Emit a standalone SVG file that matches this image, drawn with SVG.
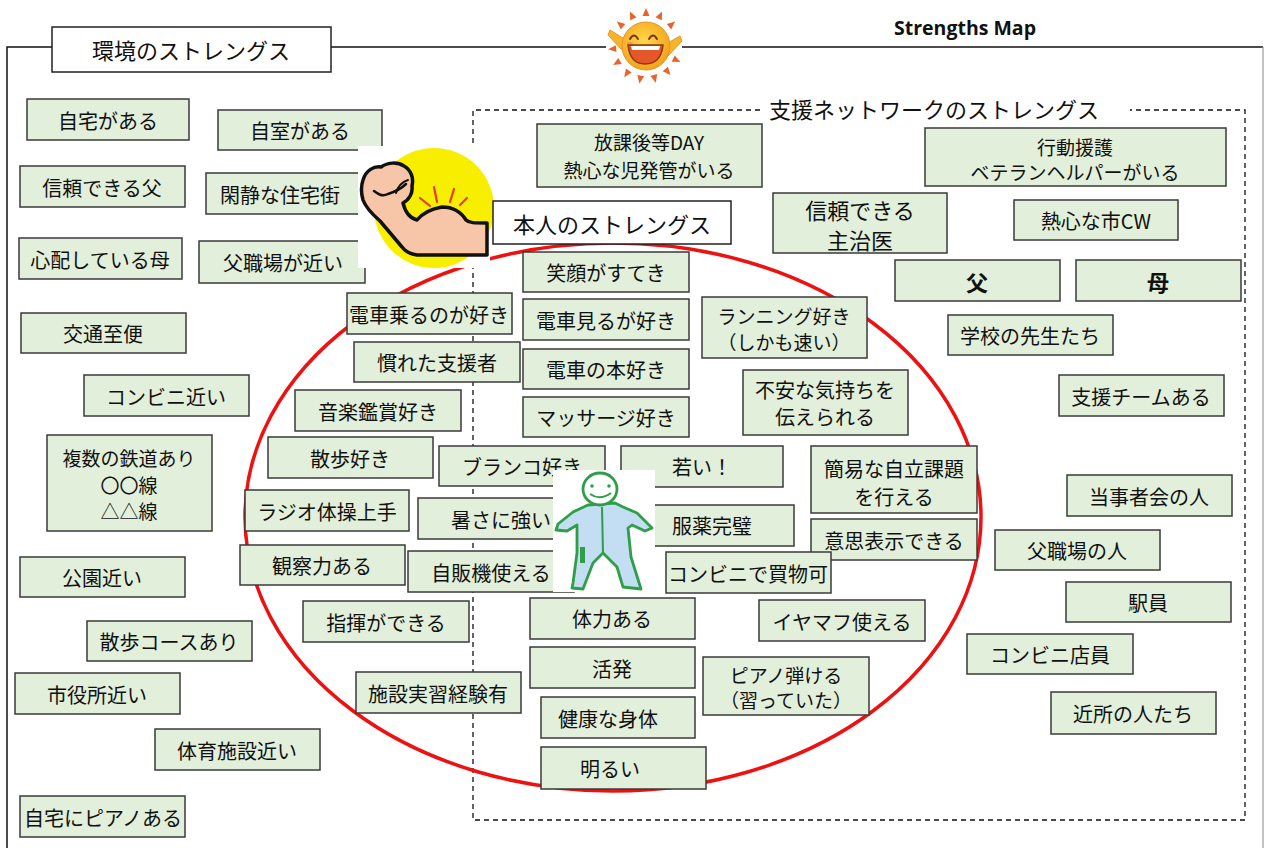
<svg xmlns="http://www.w3.org/2000/svg" width="1266" height="848" viewBox="0 0 1266 848">
  <style>
    .b { fill: #E2EFDA; stroke: #3A3A3A; stroke-width: 1.5; }
    .w { fill: #FFFFFF; stroke: #222222; stroke-width: 1.5; }
    .t { font-family: "Noto Sans CJK JP", "Noto Sans", sans-serif; font-size: 20px; fill: #111111; text-anchor: middle; dominant-baseline: central; }
    .m { font-size: 19px; }
    .h { font-size: 22px; }
    .bold { font-weight: bold; }
  </style>
  <defs>
    <radialGradient id="sunBody" cx="0.45" cy="0.4" r="0.6">
      <stop offset="0" stop-color="#FFD84A"/>
      <stop offset="1" stop-color="#F4A21E"/>
    </radialGradient>
    <polygon id="ray" points="-3.5,-30 3.5,-30 0,-38" fill="#E8642A"/>
  </defs>

  <rect width="1266" height="848" fill="#FFFFFF"/>

  <!-- outer frame -->
  <g id="frame" fill="none">
    <polyline points="7,848 7,47 52,47" stroke="#111" stroke-width="1.5"/>
    <line x1="331" y1="47" x2="606" y2="47" stroke="#111" stroke-width="1.5"/>
    <line x1="682" y1="47" x2="1263" y2="47" stroke="#111" stroke-width="1.5"/>
    <line x1="1263" y1="47" x2="1263" y2="848" stroke="#999" stroke-width="1.2"/>
  </g>

  <!-- support-network dashed area -->
  <g id="network-frame" fill="none" stroke="#111" stroke-width="1.3" stroke-dasharray="5,4">
    <polyline points="760,110 473,110 473,820 1245,820 1245,110 1130,110"/>
  </g>

  <!-- red ellipse around the person -->
  <ellipse id="self-ring" cx="613" cy="517" rx="368" ry="274" fill="none" stroke="#EE1111" stroke-width="3.5"/>

  <text class="t bold" x="965" y="27" style="font-family:'Open Sans','Liberation Sans',sans-serif;font-size:19.5px">Strengths Map</text>

  <!-- section titles -->
  <g id="title-env">
    <rect class="w" x="52" y="27" width="279" height="45"/>
    <text class="t h" x="191" y="49">環境のストレングス</text>
  </g>
  <g id="title-net">
    <text class="t h" x="934" y="108">支援ネットワークのストレングス</text>
  </g>

  <!-- environment strengths -->
  <g id="env-home"><rect class="b" x="27" y="99" width="162" height="41"/><text class="t" x="108" y="120">自宅がある</text></g>
  <g id="env-room"><rect class="b" x="218" y="110" width="164" height="40"/><text class="t" x="300" y="130">自室がある</text></g>
  <g id="env-father"><rect class="b" x="20" y="166" width="165" height="41"/><text class="t" x="102" y="187">信頼できる父</text></g>
  <g id="env-quiet"><rect class="b" x="206" y="173" width="165" height="41"/><text class="t" x="280" y="194">閑静な住宅街</text></g>
  <g id="env-mother"><rect class="b" x="19" y="238" width="163" height="41"/><text class="t" x="100" y="259">心配している母</text></g>
  <g id="env-fatherwork"><rect class="b" x="199" y="241" width="166" height="42"/><text class="t" x="283" y="262">父職場が近い</text></g>
  <g id="env-transit"><rect class="b" x="21" y="313" width="165" height="40"/><text class="t" x="103" y="333">交通至便</text></g>
  <g id="env-store"><rect class="b" x="84" y="375" width="165" height="41"/><text class="t" x="166" y="396">コンビニ近い</text></g>
  <g id="env-rail"><rect class="b" x="47" y="435" width="165" height="96"/>
    <text class="t m" x="129" y="457">複数の鉄道あり</text>
    <text class="t m" x="129" y="484">〇〇線</text>
    <text class="t m" x="129" y="510">△△線</text>
  </g>
  <g id="env-park"><rect class="b" x="20" y="557" width="165" height="40"/><text class="t" x="102" y="577">公園近い</text></g>
  <g id="env-walk"><rect class="b" x="87" y="621" width="165" height="40"/><text class="t" x="169" y="641">散歩コースあり</text></g>
  <g id="env-office"><rect class="b" x="15" y="673" width="165" height="41"/><text class="t" x="97" y="694">市役所近い</text></g>
  <g id="env-gym"><rect class="b" x="155" y="729" width="165" height="41"/><text class="t" x="237" y="750">体育施設近い</text></g>
  <g id="env-piano"><rect class="b" x="20" y="796" width="165" height="41"/><text class="t" x="103" y="817">自宅にピアノある</text></g>

  <!-- flexed arm emblem -->
  <g id="arm-emblem">
    <rect x="358" y="146" width="132" height="122" fill="#FFFFFF"/>
    <circle cx="434" cy="208" r="60" fill="#F7EE00"/>
    <path d="M363,180 C366,170 374,166 381,167 C388,162 398,162 404,166 C411,170 414,178 412,186 C413,193 409,200 403,203 C405,211 409,218 417,220 C422,214 430,209 442,207 C453,207 461,212 466,220 C469,223 474,223 487,223 L487,255 L417,255 C410,254 405,251 402,247 L380,221 C372,214 366,208 363,200 C361,193 361,186 363,180 Z" fill="#F7C6A8" stroke="#111" stroke-width="3.5" stroke-linejoin="round"/>
    <path d="M374,191 C378,194 382,197 388,194 C394,192 400,190 406,184" fill="none" stroke="#111" stroke-width="2.5" stroke-linecap="round"/>
    <path d="M396,193 C398,186 402,182 408,180" fill="none" stroke="#111" stroke-width="2" stroke-linecap="round"/>
    <g stroke="#E83A1E" stroke-width="2.2" stroke-linecap="round">
      <line x1="420" y1="198" x2="430" y2="206"/>
      <line x1="434" y1="187" x2="437" y2="202"/>
      <line x1="454" y1="189" x2="450" y2="202"/>
      <line x1="467" y1="198" x2="460" y2="205"/>
    </g>
  </g>

  <!-- personal strengths -->
  <g id="self-title">
    <rect class="w" x="493" y="201" width="238" height="43"/>
    <text class="t h" x="612" y="223">本人のストレングス</text>
  </g>
  <g id="self-smile"><rect class="b" x="523" y="252" width="166" height="40"/><text class="t" x="606" y="272">笑顔がすてき</text></g>
  <g id="self-trainride"><rect class="b" x="347" y="293" width="165" height="41"/><text class="t" x="429" y="314">電車乗るのが好き</text></g>
  <g id="self-trainwatch"><rect class="b" x="523" y="299" width="166" height="41"/><text class="t" x="606" y="320">電車見るが好き</text></g>
  <g id="self-running"><rect class="b" x="702" y="297" width="165" height="61"/>
    <text class="t m" x="784" y="315">ランニング好き</text>
    <text class="t m" x="784" y="341">（しかも速い）</text>
  </g>
  <g id="self-supporter"><rect class="b" x="354" y="342" width="166" height="40"/><text class="t" x="437" y="362">慣れた支援者</text></g>
  <g id="self-trainbook"><rect class="b" x="523" y="349" width="166" height="40"/><text class="t" x="606" y="369">電車の本好き</text></g>
  <g id="self-anxiety"><rect class="b" x="743" y="370" width="165" height="65"/>
    <text class="t" x="825" y="389">不安な気持ちを</text>
    <text class="t" x="825" y="416">伝えられる</text>
  </g>
  <g id="self-music"><rect class="b" x="295" y="390" width="166" height="41"/><text class="t" x="378" y="411">音楽鑑賞好き</text></g>
  <g id="self-massage"><rect class="b" x="523" y="397" width="166" height="40"/><text class="t" x="606" y="417">マッサージ好き</text></g>
  <g id="self-stroll"><rect class="b" x="268" y="437" width="165" height="41"/><text class="t" x="350" y="458">散歩好き</text></g>
  <g id="self-swing"><rect class="b" x="439" y="446" width="166" height="40"/><text class="t" x="522" y="466">ブランコ好き</text></g>
  <g id="self-young"><rect class="b" x="621" y="446" width="162" height="41"/><text class="t" x="702" y="466">若い！</text></g>
  <g id="self-tasks"><rect class="b" x="811" y="446" width="166" height="67"/>
    <text class="t" x="894" y="468">簡易な自立課題</text>
    <text class="t" x="894" y="496">を行える</text>
  </g>
  <g id="self-radio"><rect class="b" x="245" y="490" width="164" height="41"/><text class="t" x="327" y="511">ラジオ体操上手</text></g>
  <g id="self-heat"><rect class="b" x="418" y="498" width="166" height="41"/><text class="t" x="501" y="519">暑さに強い</text></g>
  <g id="self-medicine"><rect class="b" x="630" y="505" width="164" height="41"/><text class="t" x="712" y="525">服薬完璧</text></g>
  <g id="self-express"><rect class="b" x="811" y="519" width="166" height="41"/><text class="t" x="894" y="540">意思表示できる</text></g>
  <g id="self-observe"><rect class="b" x="240" y="545" width="165" height="40"/><text class="t" x="322" y="565">観察力ある</text></g>
  <g id="self-vending"><rect class="b" x="408" y="551" width="166" height="41"/><text class="t" x="491" y="572">自販機使える</text></g>
  <g id="self-shopping"><rect class="b" x="666" y="552" width="165" height="41"/><text class="t" x="748" y="573">コンビニで買物可</text></g>
  <g id="self-conduct"><rect class="b" x="303" y="601" width="166" height="41"/><text class="t" x="386" y="622">指揮ができる</text></g>
  <g id="self-stamina"><rect class="b" x="530" y="598" width="165" height="41"/><text class="t" x="612" y="618">体力ある</text></g>
  <g id="self-earmuff"><rect class="b" x="759" y="600" width="166" height="41"/><text class="t" x="842" y="621">イヤマフ使える</text></g>
  <g id="self-active"><rect class="b" x="530" y="647" width="165" height="41"/><text class="t" x="612" y="668">活発</text></g>
  <g id="self-piano"><rect class="b" x="703" y="657" width="166" height="58"/>
    <text class="t m" x="786" y="674">ピアノ弾ける</text>
    <text class="t m" x="786" y="699">（習っていた）</text>
  </g>
  <g id="self-training"><rect class="b" x="356" y="672" width="165" height="41"/><text class="t" x="438" y="693">施設実習経験有</text></g>
  <g id="self-healthy"><rect class="b" x="541" y="697" width="154" height="41"/><text class="t" x="608" y="718">健康な身体</text></g>
  <g id="self-cheerful"><rect class="b" x="541" y="747" width="165" height="42"/><text class="t" x="610" y="768">明るい</text></g>

  <!-- person figure -->
  <g id="person">
    <rect x="553" y="470" width="102" height="122" fill="#FFFFFF"/>
    <path d="M588,505 L573,512 L558,524 L556,530 L567,531 L577,525 L577,553 L573,583 L572,588 L583,589 L593,563 L603,553 L617,567 L623,587 L641,589 L631,557 L628,528 L632,525 L645,531 L652,528 L637,513 L623,507 L615,503 Z" fill="#C3DDF2" stroke="#2E9E48" stroke-width="2.8" stroke-linejoin="round"/>
    <ellipse cx="600" cy="489" rx="17" ry="16" fill="#FFFFFF" stroke="#2E9E48" stroke-width="2.8"/>
    <circle cx="592" cy="486" r="1.8" fill="#2E9E48"/>
    <circle cx="609" cy="486" r="1.8" fill="#2E9E48"/>
    <path d="M590,494 Q600,501 611,493" fill="none" stroke="#2E9E48" stroke-width="2"/>
    <line x1="602" y1="507" x2="603" y2="553" stroke="#2E9E48" stroke-width="2"/>
    <rect x="580" y="547" width="5" height="16" fill="#2E9E48"/>
  </g>

  <!-- sun emblem -->
  <g id="sun" transform="translate(646,46)">
    <g>
      <use href="#ray" transform="rotate(0)"/>
      <use href="#ray" transform="rotate(25)"/>
      <use href="#ray" transform="rotate(50)"/>
      <use href="#ray" transform="rotate(115)"/>
      <use href="#ray" transform="rotate(140)"/>
      <use href="#ray" transform="rotate(165)"/>
      <use href="#ray" transform="rotate(190)"/>
      <use href="#ray" transform="rotate(215)"/>
      <use href="#ray" transform="rotate(240)"/>
      <use href="#ray" transform="rotate(265)"/>
      <use href="#ray" transform="rotate(310)"/>
      <use href="#ray" transform="rotate(335)"/>
    </g>
    <path d="M-20,-6 L-36,-16 L-38,-11 L-24,4 Z" fill="#F8B52A" stroke="#E8961E" stroke-width="1"/>
    <path d="M20,-2 L34,-10 L36,-5 L22,10 Z" fill="#F8B52A" stroke="#E8961E" stroke-width="1"/>
    <circle r="24" fill="url(#sunBody)" stroke="#E8961E" stroke-width="1"/>
    <path d="M-16,-7 Q-12,-14 -8,-7" fill="none" stroke="#7A3A10" stroke-width="2" stroke-linecap="round"/>
    <path d="M3,-7 Q7,-14 11,-7" fill="none" stroke="#7A3A10" stroke-width="2" stroke-linecap="round"/>
    <ellipse cx="-16" cy="-2" rx="3" ry="2" fill="#F08060" opacity="0.7"/>
    <path d="M-18,-1 L17,-1 Q15,18 -1,18 Q-16,18 -18,-1 Z" fill="#E4572A" stroke="#8A3A10" stroke-width="1.5"/>
    <path d="M-15,0 L14,0 L13,4 L-14,4 Z" fill="#FFFFFF"/>
  </g>

  <!-- support network strengths -->
  <g id="net-dayservice"><rect class="b" x="537" y="124" width="225" height="63"/>
    <text class="t m" x="649" y="141">放課後等DAY</text>
    <text class="t m" x="649" y="169">熱心な児発管がいる</text>
  </g>
  <g id="net-helper"><rect class="b" x="925" y="128" width="301" height="58"/>
    <text class="t m" x="1075" y="146">行動援護</text>
    <text class="t m" x="1075" y="171">ベテランヘルパーがいる</text>
  </g>
  <g id="net-doctor"><rect class="b" x="773" y="193" width="174" height="60"/>
    <text class="t h" x="860" y="209">信頼できる</text>
    <text class="t h" x="860" y="239">主治医</text>
  </g>
  <g id="net-cw"><rect class="b" x="1014" y="200" width="164" height="40"/><text class="t" x="1096" y="220">熱心な市CW</text></g>
  <g id="net-father"><rect class="b" x="895" y="260" width="165" height="41"/><text class="t h bold" x="977" y="281">父</text></g>
  <g id="net-mother"><rect class="b" x="1076" y="260" width="165" height="41"/><text class="t h bold" x="1158" y="281">母</text></g>
  <g id="net-teachers"><rect class="b" x="948" y="315" width="165" height="40"/><text class="t" x="1030" y="335">学校の先生たち</text></g>
  <g id="net-team"><rect class="b" x="1059" y="375" width="165" height="41"/><text class="t" x="1141" y="396">支援チームある</text></g>
  <g id="net-peers"><rect class="b" x="1067" y="475" width="165" height="41"/><text class="t" x="1149" y="496">当事者会の人</text></g>
  <g id="net-coworkers"><rect class="b" x="995" y="530" width="165" height="40"/><text class="t" x="1077" y="550">父職場の人</text></g>
  <g id="net-station"><rect class="b" x="1066" y="582" width="165" height="40"/><text class="t" x="1148" y="602">駅員</text></g>
  <g id="net-clerk"><rect class="b" x="967" y="634" width="166" height="40"/><text class="t" x="1050" y="654">コンビニ店員</text></g>
  <g id="net-neighbors"><rect class="b" x="1051" y="692" width="165" height="42"/><text class="t" x="1133" y="713">近所の人たち</text></g>
</svg>
